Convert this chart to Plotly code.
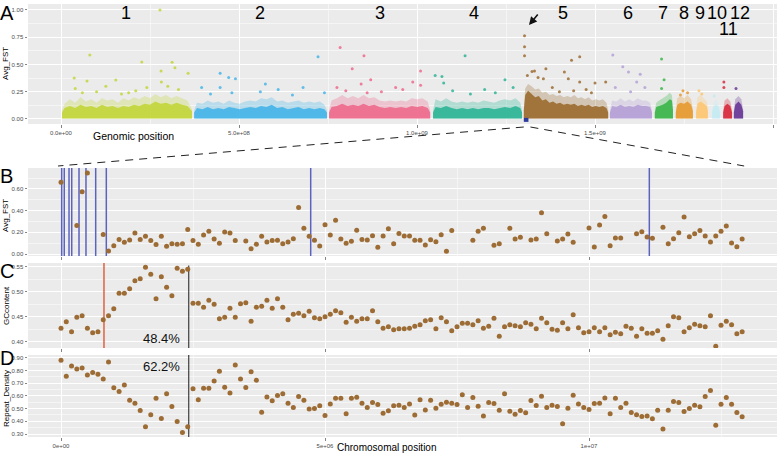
import numpy as np
import plotly.graph_objects as go

# ================= Panel A : genome-wide Avg_FST =================
chrom_labels = ['1', '2', '3', '4', '5', '6', '7', '8', '9', '10', '11', '12']
chrom_colors = ['#C3D63C', '#47B5E8', '#EE6A8D', '#30B597', '#9C6C31', '#B5A0D6',
                '#3DB64C', '#E59A30', '#FDC672', '#C4EAF3', '#D82B3E', '#6A3A98']
chrom_start_gb = [0.003, 0.374, 0.753, 1.045, 1.300, 1.542, 1.668, 1.727, 1.784, 1.829, 1.860, 1.890]
chrom_end_gb = [0.368, 0.747, 1.037, 1.295, 1.537, 1.660, 1.719, 1.775, 1.817, 1.851, 1.885, 1.916]

# outline of the dense cloud of windows, per chromosome (position in Gb, FST)
band_pos_gb = [
    [0.003, 0.010, 0.025, 0.040, 0.055, 0.070, 0.085, 0.100, 0.115, 0.130, 0.145, 0.160, 0.175,
     0.190, 0.205, 0.220, 0.235, 0.250, 0.265, 0.280, 0.295, 0.310, 0.325, 0.340, 0.355, 0.368],
    [0.374, 0.382, 0.397, 0.412, 0.427, 0.442, 0.457, 0.472, 0.487, 0.502, 0.517, 0.532, 0.547,
     0.562, 0.577, 0.592, 0.607, 0.622, 0.637, 0.652, 0.667, 0.682, 0.697, 0.712, 0.727, 0.740, 0.747],
    [0.753, 0.760, 0.775, 0.790, 0.805, 0.820, 0.835, 0.850, 0.865, 0.880, 0.895, 0.910, 0.925,
     0.940, 0.955, 0.970, 0.985, 1.000, 1.015, 1.030, 1.037],
    [1.045, 1.052, 1.067, 1.082, 1.097, 1.112, 1.127, 1.142, 1.157, 1.172, 1.187, 1.202, 1.217,
     1.232, 1.247, 1.262, 1.277, 1.290, 1.295],
    [1.300, 1.304, 1.312, 1.322, 1.332, 1.342, 1.352, 1.362, 1.372, 1.382, 1.392, 1.402, 1.412,
     1.422, 1.432, 1.442, 1.452, 1.462, 1.472, 1.482, 1.492, 1.502, 1.512, 1.522, 1.532, 1.537],
    [1.542, 1.548, 1.560, 1.572, 1.584, 1.596, 1.608, 1.620, 1.632, 1.644, 1.655, 1.660],
    [1.668, 1.672, 1.680, 1.690, 1.700, 1.710, 1.716, 1.719],
    [1.727, 1.731, 1.740, 1.750, 1.760, 1.770, 1.775],
    [1.784, 1.788, 1.797, 1.806, 1.814, 1.817],
    [1.829, 1.833, 1.840, 1.847, 1.851],
    [1.860, 1.864, 1.872, 1.880, 1.885],
    [1.890, 1.894, 1.903, 1.911, 1.916],
]
band_core = [
    [0.06, 0.10, 0.12, 0.10, 0.13, 0.11, 0.12, 0.10, 0.13, 0.11, 0.12, 0.10, 0.12,
     0.11, 0.13, 0.12, 0.14, 0.13, 0.16, 0.14, 0.15, 0.13, 0.15, 0.13, 0.12, 0.07],
    [0.06, 0.10, 0.09, 0.11, 0.09, 0.10, 0.09, 0.11, 0.10, 0.09, 0.10, 0.11, 0.10,
     0.12, 0.11, 0.13, 0.10, 0.11, 0.09, 0.10, 0.11, 0.09, 0.10, 0.09, 0.10, 0.09, 0.06],
    [0.06, 0.11, 0.12, 0.14, 0.12, 0.13, 0.12, 0.14, 0.12, 0.13, 0.11, 0.10, 0.11,
     0.10, 0.11, 0.10, 0.12, 0.11, 0.12, 0.10, 0.06],
    [0.06, 0.11, 0.10, 0.12, 0.10, 0.09, 0.10, 0.09, 0.10, 0.09, 0.10, 0.10, 0.09,
     0.10, 0.11, 0.10, 0.12, 0.10, 0.06],
    [0.08, 0.22, 0.26, 0.23, 0.20, 0.21, 0.17, 0.18, 0.15, 0.16, 0.14, 0.15, 0.13,
     0.14, 0.13, 0.14, 0.12, 0.13, 0.12, 0.13, 0.11, 0.12, 0.11, 0.12, 0.10, 0.06],
    [0.06, 0.12, 0.11, 0.13, 0.11, 0.12, 0.11, 0.13, 0.12, 0.12, 0.11, 0.06],
    [0.06, 0.11, 0.12, 0.13, 0.15, 0.18, 0.17, 0.08],
    [0.06, 0.13, 0.15, 0.14, 0.16, 0.13, 0.07],
    [0.06, 0.14, 0.16, 0.14, 0.12, 0.07],
    [0.06, 0.11, 0.13, 0.11, 0.06],
    [0.06, 0.12, 0.14, 0.12, 0.06],
    [0.06, 0.13, 0.16, 0.13, 0.07],
]
band_halo = [
    [0.08, 0.14, 0.18, 0.15, 0.20, 0.16, 0.18, 0.15, 0.19, 0.17, 0.18, 0.15, 0.19,
     0.17, 0.20, 0.18, 0.21, 0.19, 0.23, 0.20, 0.22, 0.19, 0.21, 0.19, 0.17, 0.09],
    [0.08, 0.15, 0.14, 0.17, 0.15, 0.16, 0.14, 0.17, 0.15, 0.14, 0.16, 0.17, 0.16,
     0.19, 0.18, 0.20, 0.16, 0.17, 0.15, 0.16, 0.17, 0.15, 0.16, 0.15, 0.16, 0.13, 0.08],
    [0.08, 0.17, 0.19, 0.22, 0.19, 0.21, 0.19, 0.22, 0.19, 0.20, 0.17, 0.16, 0.17,
     0.16, 0.17, 0.16, 0.19, 0.18, 0.19, 0.16, 0.08],
    [0.08, 0.18, 0.16, 0.19, 0.16, 0.15, 0.16, 0.15, 0.16, 0.15, 0.17, 0.16, 0.15,
     0.17, 0.18, 0.17, 0.19, 0.15, 0.08],
    [0.10, 0.28, 0.32, 0.30, 0.27, 0.28, 0.24, 0.25, 0.22, 0.23, 0.21, 0.22, 0.20,
     0.21, 0.20, 0.22, 0.19, 0.20, 0.18, 0.20, 0.17, 0.18, 0.17, 0.18, 0.15, 0.08],
    [0.08, 0.17, 0.16, 0.19, 0.16, 0.18, 0.16, 0.19, 0.17, 0.17, 0.15, 0.08],
    [0.08, 0.15, 0.17, 0.19, 0.21, 0.24, 0.22, 0.10],
    [0.08, 0.19, 0.21, 0.19, 0.22, 0.18, 0.09],
    [0.08, 0.20, 0.22, 0.19, 0.16, 0.09],
    [0.08, 0.15, 0.18, 0.15, 0.08],
    [0.08, 0.17, 0.19, 0.16, 0.08],
    [0.08, 0.18, 0.21, 0.18, 0.09],
]
# scattered high-FST windows, per chromosome
out_pos_gb = [
    [0.081, 0.037, 0.073, 0.154, 0.227, 0.278, 0.281, 0.312, 0.320, 0.357, 0.282, 0.126, 0.241, 0.040, 0.190, 0.10, 0.33, 0.06, 0.21, 0.30, 0.17],
    [0.447, 0.471, 0.49, 0.722, 0.395, 0.447, 0.574, 0.68, 0.61, 0.74, 0.48, 0.56, 0.42, 0.65],
    [0.784, 0.851, 0.818, 0.870, 0.843, 0.775, 1.010, 0.988, 1.01, 0.96, 0.94, 0.80, 0.90, 0.86],
    [1.135, 1.051, 1.07, 1.075, 1.247, 1.19, 1.27, 1.10, 1.22, 1.15],
    [1.302, 1.302, 1.302, 1.323, 1.33, 1.362, 1.434, 1.457, 1.414, 1.355, 1.425, 1.457, 1.50, 1.53, 1.38, 1.475, 1.40, 1.44, 1.49, 1.34, 1.31],
    [1.55, 1.578, 1.594, 1.627, 1.617, 1.64, 1.557, 1.60],
    [1.687, 1.694, 1.687],
    [1.747, 1.76, 1.74],
    [1.792, 1.80],
    [1.835],
    [1.862, 1.862],
    [1.896],
]
out_fst = [
    [0.587, 0.376, 0.349, 0.358, 0.523, 1.00, 0.44, 0.52, 0.47, 0.42, 0.34, 0.30, 0.29, 0.28, 0.24, 0.25, 0.27, 0.24, 0.26, 0.30, 0.23],
    [0.42, 0.38, 0.37, 0.57, 0.29, 0.29, 0.32, 0.29, 0.27, 0.24, 0.24, 0.25, 0.23, 0.22],
    [0.657, 0.58, 0.46, 0.36, 0.32, 0.29, 0.44, 0.34, 0.31, 0.27, 0.29, 0.26, 0.25, 0.24],
    [0.58, 0.40, 0.39, 0.33, 0.36, 0.27, 0.29, 0.26, 0.24, 0.23],
    [0.764, 0.663, 0.58, 0.435, 0.44, 0.46, 0.54, 0.57, 0.43, 0.37, 0.37, 0.34, 0.33, 0.34, 0.29, 0.27, 0.25, 0.26, 0.24, 0.38, 0.40],
    [0.587, 0.48, 0.43, 0.41, 0.34, 0.29, 0.29, 0.25],
    [0.55, 0.36, 0.28],
    [0.26, 0.24, 0.22],
    [0.26, 0.23],
    [0.21],
    [0.34, 0.29],
    [0.28],
]
zoom_chrom = 4          # chromosome 5 (index 4) is zoomed in panels B-D
zoom_len_mb = 13.0

# ================= Panels B-D : chromosome 5, 100 kb windows =================
window_mb = np.arange(130) * 0.1
avg_fst = [
    0.662, None, None, 0.263, 0.575, 0.748, None, None, 0.179, 0.028,
    0.077, 0.133, 0.108, 0.130, 0.195, 0.133, 0.164, 0.124, 0.087, 0.164,
    0.071, 0.096, 0.090, 0.096, 0.226, 0.124, 0.090, 0.176, 0.210, 0.139,
    0.099, 0.204, 0.195, 0.124, None, 0.121, 0.049, 0.090, 0.164, 0.111,
    0.124, 0.127, 0.096, 0.111, 0.142, 0.430, 0.238, 0.164, 0.127, 0.074,
    0.269, 0.176, 0.312, 0.139, 0.099, 0.118, 0.220, 0.133, 0.130, 0.169,
    0.062, 0.166, 0.233, 0.095, 0.190, 0.166, 0.166, 0.126, 0.126, 0.083,
    0.132, 0.114, 0.178, 0.025, 0.218, None, None, None, 0.126, 0.209,
    0.237, None, 0.080, 0.095, None, 0.237, 0.138, 0.154, None, 0.129,
    0.138, 0.381, 0.187, None, 0.120, 0.138, 0.184, 0.108, None, None,
    0.240, 0.065, 0.267, 0.347, 0.077, 0.147, 0.147, None, None, 0.187,
    0.206, 0.157, 0.145, None, 0.246, 0.095, 0.141, 0.196, 0.341, 0.160,
    0.187, 0.218, 0.166, 0.111, 0.166, 0.209, 0.258, 0.101, 0.067, 0.138,
]
gc_content = [
    0.427, 0.440, 0.420, 0.449, 0.452, 0.427, 0.418, 0.420, 0.444, 0.452,
    0.466, 0.497, 0.497, 0.506, 0.522, 0.526, 0.549, 0.535, 0.486, 0.530,
    0.509, 0.492, 0.547, 0.541, 0.545, 0.477, 0.477, 0.469, 0.483, 0.475,
    0.446, 0.449, 0.467, 0.449, 0.476, 0.478, 0.441, 0.469, 0.471, 0.483,
    0.467, 0.486, 0.469, 0.444, 0.455, 0.457, 0.452, 0.461, 0.448, 0.446,
    0.450, 0.455, 0.462, 0.458, 0.439, 0.449, 0.441, 0.446, 0.446, 0.462,
    0.440, 0.427, 0.430, 0.424, 0.426, 0.426, 0.427, 0.431, 0.434, 0.442,
    0.444, 0.426, 0.448, 0.440, 0.422, 0.430, 0.437, 0.437, 0.434, 0.442,
    0.427, 0.431, 0.447, 0.411, 0.430, 0.434, 0.432, 0.430, 0.438, 0.435,
    0.426, 0.447, 0.438, 0.425, 0.423, 0.438, 0.426, 0.454, 0.428, 0.418,
    0.420, 0.428, 0.420, 0.428, 0.414, 0.419, 0.416, 0.431, 0.427, 0.411,
    0.426, 0.417, 0.417, 0.422, 0.405, 0.432, 0.450, 0.448, 0.420, 0.428,
    0.435, 0.432, 0.430, 0.452, 0.391, 0.433, 0.441, 0.434, 0.416, 0.420,
]
repeat_density = [
    0.879, 0.754, 0.835, 0.811, 0.819, 0.764, 0.783, 0.770, 0.733, 0.866,
    0.663, 0.634, 0.686, 0.566, 0.543, 0.485, 0.357, 0.451, 0.582, 0.423,
    0.616, 0.516, 0.399, 0.313, 0.357, 0.655, 0.569, 0.660, 0.660, 0.717,
    0.793, 0.668, 0.623, 0.843, 0.733, 0.665, 0.790, 0.723, 0.472, 0.592,
    0.561, 0.603, 0.616, 0.543, 0.509, 0.595, 0.566, 0.496, 0.501, 0.522,
    0.446, 0.537, 0.582, 0.582, 0.459, 0.582, 0.590, 0.543, 0.509, 0.548,
    0.532, 0.464, 0.483, 0.522, 0.527, 0.509, 0.537, 0.449, 0.569, 0.490,
    0.566, 0.503, 0.535, 0.550, 0.543, 0.532, 0.608, 0.509, 0.587, 0.519,
    0.441, 0.548, 0.540, 0.488, 0.616, 0.480, 0.456, 0.485, 0.467, 0.563,
    0.524, 0.597, 0.509, 0.527, 0.516, 0.381, 0.503, 0.605, 0.537, 0.509,
    0.493, 0.540, 0.543, 0.584, 0.459, 0.582, 0.509, 0.543, 0.470, 0.451,
    0.438, 0.441, 0.420, 0.488, 0.339, 0.488, 0.556, 0.548, 0.477, 0.501,
    0.527, 0.514, 0.595, 0.642, 0.370, 0.535, 0.587, 0.535, 0.470, 0.436,
]
fst_peak_mb = [0.013, 0.062, 0.152, 0.203, 0.341, 0.473, 0.657, 0.858, 4.729, 11.142]
gc_mark_mb = 0.814
boundary_mb = 2.42
gc_label = '48.4%'
repeat_label = '62.2%'

# ================= Layout geometry =================
W, H = 780, 454
FONT = 'Liberation Sans, Arial, sans-serif'
PT_COLOR = '#9C6C34'
BG = '#EBEBEB'


def px_x(p):
    return p / W


def px_y(p):
    return 1 - p / H


XDOM = [px_x(28), px_x(777)]
DOM_A = [px_y(124), px_y(4)]
DOM_B = [px_y(256), px_y(168)]
DOM_C = [px_y(348), px_y(263)]
DOM_D = [px_y(437), px_y(355)]
RX_A = [-0.0927e9, 2.0112e9]
RY_A = [-0.046, 1.055]
RX_Z = [-0.625e6, 13.56e6]
RY_B = [-0.018, 0.793]
RY_C = [0.3874, 0.5574]
RY_D = [0.277, 0.921]


def hex_rgba(h, a):
    h = h.lstrip('#')
    return 'rgba(%d,%d,%d,%.2f)' % (int(h[0:2], 16), int(h[2:4], 16), int(h[4:6], 16), a)


def to_paper_x(v, rng):
    return XDOM[0] + (v - rng[0]) / (rng[1] - rng[0]) * (XDOM[1] - XDOM[0])


fig = go.Figure()

# ---- Panel A traces ----
for k in range(len(chrom_labels)):
    xs = [p * 1e9 for p in band_pos_gb[k]]
    col = chrom_colors[k]
    for tops, alpha in ((band_halo[k], 0.30), (band_core[k], 0.92)):
        fig.add_trace(go.Scatter(
            x=xs + xs[::-1], y=list(tops) + [0.005] * len(xs),
            fill='toself', mode='lines', line=dict(width=0),
            fillcolor=hex_rgba(col, alpha), hoverinfo='skip', showlegend=False,
            xaxis='x', yaxis='y'))
    fig.add_trace(go.Scatter(
        x=[p * 1e9 for p in out_pos_gb[k]], y=out_fst[k], mode='markers',
        marker=dict(size=3, color=hex_rgba(col, 0.85)), showlegend=False,
        xaxis='x', yaxis='y'))

zs = chrom_start_gb[zoom_chrom] * 1e9
ze = zs + zoom_len_mb * 1e6
fig.add_trace(go.Scatter(x=[zs, ze], y=[-0.008, -0.008], mode='lines',
                         line=dict(color='#2B3C9E', width=4), showlegend=False,
                         xaxis='x', yaxis='y'))

# ---- Panels B-D : vertical marker lines (drawn before the points) ----
def vlines(xs_bp, rng, ax, color, width, top_frac=1.0):
    xx, yy = [], []
    for v in xs_bp:
        xx += [v, v, None]
        yy += [rng[0], rng[0] + (rng[1] - rng[0]) * top_frac, None]
    fig.add_trace(go.Scatter(x=xx, y=yy, mode='lines', line=dict(color=color, width=width),
                             hoverinfo='skip', showlegend=False, xaxis='x' + ax, yaxis='y' + ax))


vlines([m * 1e6 for m in fst_peak_mb], RY_B, '2', '#5B62C0', 1.5)
vlines([gc_mark_mb * 1e6], RY_C, '3', '#E0623F', 1.5)
vlines([boundary_mb * 1e6], RY_C, '3', '#1A1A1A', 1.0, 0.97)
vlines([boundary_mb * 1e6], RY_D, '4', '#1A1A1A', 1.0)

xw = window_mb * 1e6
for vals, ax in ((avg_fst, '2'), (gc_content, '3'), (repeat_density, '4')):
    fig.add_trace(go.Scatter(x=xw, y=vals, mode='markers',
                             marker=dict(size=5, color=PT_COLOR),
                             showlegend=False, xaxis='x' + ax, yaxis='y' + ax))

shapes = []
# dashed zoom connectors (A region -> B panel)
yA_bot = DOM_A[0] - 3 / H
yB_top = DOM_B[1] + 2 / H
shapes.append(dict(type='line', xref='paper', yref='paper',
                   x0=to_paper_x(zs, RX_A), y0=yA_bot, x1=to_paper_x(0, RX_Z) - 3 / W, y1=yB_top,
                   line=dict(color='#222222', width=1, dash='8px,6px')))
shapes.append(dict(type='line', xref='paper', yref='paper',
                   x0=to_paper_x(ze, RX_A) + 2 / W, y0=yA_bot,
                   x1=to_paper_x(window_mb[-1] * 1e6, RX_Z) + 2 / W, y1=yB_top,
                   line=dict(color='#222222', width=1, dash='8px,6px')))

# ---- axes ----
tickfont = dict(size=6, color='#4D4D4D', family=FONT)


def xax(dom_anchor, rng, tv, tt, show, minor_dt):
    return dict(domain=XDOM, range=rng, anchor=dom_anchor, tickmode='array', tickvals=tv,
                ticktext=tt, showticklabels=show, ticks='outside', ticklen=2.5, tickwidth=0.6,
                tickcolor='#333333', tickfont=tickfont, showgrid=True, gridcolor='white',
                gridwidth=1, zeroline=False, showline=False, automargin=False,
                minor=dict(tickmode='linear', tick0=0, dtick=minor_dt, showgrid=True,
                           gridcolor='white', gridwidth=0.5, ticks=''))


def yax(dom, rng, anchor, tv, tt, t0, minor_dt):
    return dict(domain=dom, range=rng, anchor=anchor, tickmode='array', tickvals=tv,
                ticktext=tt, ticks='outside', ticklen=2.5, tickwidth=0.6, tickcolor='#333333',
                tickfont=tickfont, showgrid=True, gridcolor='white', gridwidth=1,
                zeroline=False, showline=False, automargin=False,
                minor=dict(tickmode='linear', tick0=t0, dtick=minor_dt, showgrid=True,
                           gridcolor='white', gridwidth=0.5, ticks=''))


zx_tv = [0, 5e6, 1e7]
zx_tt = ['0e+00', '5e+06', '1e+07']

fig.update_layout(
    width=W, height=H, margin=dict(l=0, r=0, t=0, b=0, pad=0), autosize=False,
    paper_bgcolor='white', plot_bgcolor=BG, font=dict(family=FONT, color='#000000'),
    showlegend=False,
    xaxis=xax('y', RX_A, [0, 5e8, 1e9, 1.5e9, 2e9],
              ['0.0e+00', '5.0e+08', '1.0e+09', '1.5e+09', '2.0e+09'], True, 2.5e8),
    yaxis=yax(DOM_A, RY_A, 'x', [0, 0.25, 0.5, 0.75, 1.0],
              ['0.00', '0.25', '0.50', '0.75', '1.00'], 0, 0.125),
    xaxis2=xax('y2', RX_Z, zx_tv, zx_tt, False, 2.5e6),
    yaxis2=yax(DOM_B, RY_B, 'x2', [0, 0.2, 0.4, 0.6], ['0.00', '0.20', '0.40', '0.60'], 0, 0.1),
    xaxis3=xax('y3', RX_Z, zx_tv, zx_tt, False, 2.5e6),
    yaxis3=yax(DOM_C, RY_C, 'x3', [0.40, 0.45, 0.50, 0.55], ['0.40', '0.45', '0.50', '0.55'], 0.4, 0.025),
    xaxis4=xax('y4', RX_Z, zx_tv, zx_tt, True, 2.5e6),
    yaxis4=yax(DOM_D, RY_D, 'x4', [0.3, 0.4, 0.5, 0.6, 0.7, 0.8, 0.9],
               ['0.30', '0.40', '0.50', '0.60', '0.70', '0.80', '0.90'], 0.3, 0.05),
    shapes=shapes,
)

ann = []


def txt(x, y, s, size, xanchor='center', yanchor='middle', angle=0, color='#000000'):
    ann.append(dict(x=px_x(x), y=px_y(y), xref='paper', yref='paper', text=s, showarrow=False,
                    font=dict(size=size, family=FONT, color=color), xanchor=xanchor,
                    yanchor=yanchor, textangle=angle))


# panel letters
for letter, yy in (('A', 13), ('B', 176), ('C', 271), ('D', 358)):
    txt(-2, yy, letter, 20, xanchor='left')

# chromosome numbers
chrom_label_px = [(126, 13), (260, 13), (380, 13), (474, 13), (563, 13), (628, 13),
                  (663, 13), (684, 13), (700, 13), (717, 13), (728, 29), (740, 13)]
for lab, (lx, ly) in zip(chrom_labels, chrom_label_px):
    txt(lx, ly, lab, 18)

# axis titles
txt(6, 64, 'Avg_FST', 8, angle=-90)
txt(6, 216, 'Avg_FST', 8, angle=-90)
txt(6, 306, 'GCcontent', 8, angle=-90)
txt(6, 399, 'Repeat_Density', 8, angle=-90)
txt(133, 136, 'Genomic position', 10.5)
txt(387, 447, 'Chromosomal position', 10)

# percentage labels
ann.append(dict(x=boundary_mb * 1e6 - 0.12e6, y=0.406, xref='x3', yref='y3', text=gc_label,
                showarrow=False, font=dict(size=13, family=FONT, color='#111111'),
                xanchor='right', yanchor='middle'))
ann.append(dict(x=boundary_mb * 1e6 - 0.12e6, y=0.829, xref='x4', yref='y4', text=repeat_label,
                showarrow=False, font=dict(size=13, family=FONT, color='#111111'),
                xanchor='right', yanchor='middle'))

# arrow pointing to the chromosome 5 peak
ann.append(dict(x=px_x(529), y=px_y(25), xref='paper', yref='paper', text='', showarrow=True,
                ax=10, ay=-12, arrowhead=2, arrowsize=1, arrowwidth=1.6, arrowcolor='#111111'))

fig.update_layout(annotations=ann)
fig.write_html('out.html', config={'displayModeBar': False, 'staticPlot': True},
               post_script="document.body.style.margin='0';document.body.style.padding='0';"
                           "document.body.style.overflow='hidden';")
